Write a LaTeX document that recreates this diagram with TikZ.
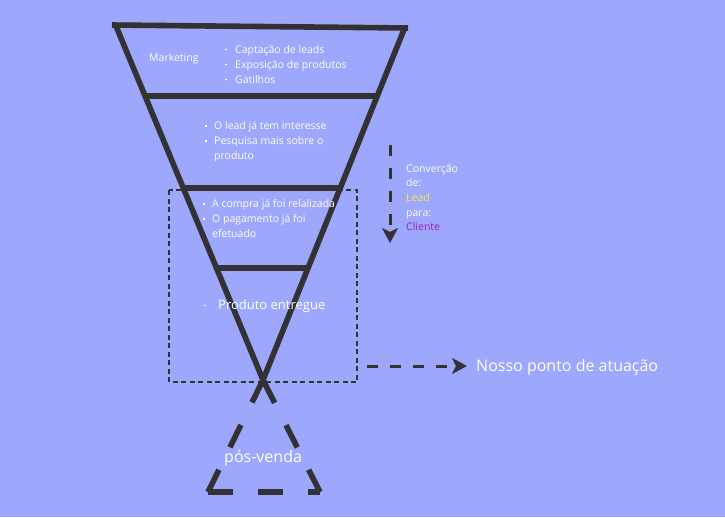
\documentclass[tikz,border=0pt]{standalone}
\usepackage{fontspec}
\setmainfont{Open Sans}
\usetikzlibrary{arrows.meta}
\definecolor{bg}{RGB}{157,167,251}
\definecolor{ink}{RGB}{50,50,52}
\definecolor{leadc}{RGB}{245,232,70}
\definecolor{clientc}{RGB}{160,30,190}
\newcommand\bul[1][9pt]{\makebox[#1][l]{\rule[2.6pt]{1.7pt}{1.7pt}}}
\newcommand\nob[1][9pt]{\hspace*{#1}}
\begin{document}
\begin{tikzpicture}[x=1pt,y=-1pt,
  funnel/.style={draw=ink,line width=5.6pt},
  tri/.style={draw=ink,line width=5.6pt,dash pattern=on 25pt off 25pt},
  frame/.style={draw=ink,line width=1.4pt,dash pattern=on 5pt off 3.5pt},
  darrow/.style={draw=ink,line width=3pt,dash pattern=on 11pt off 12pt,-{Stealth[length=15pt,width=16pt,inset=4pt]}},
  lbl/.style={anchor=base west,inner sep=0pt,text=white,align=left,font=\fontsize{10.5}{15}\selectfont},
  big/.style={anchor=base west,inner sep=0pt,text=white,font=\fontsize{16}{19}\selectfont}]
\fill[bg] (0,0) rectangle (725,517);
\useasboundingbox (0,0) rectangle (725,517);
% funnel
\coordinate (tl) at (116,26);
\coordinate (tr) at (405,27);
\coordinate (v) at (263,380);
\draw[funnel] (112,25) -- (408,28);
\draw[funnel,line join=miter] (tl) -- (v) -- (tr);
\draw[funnel] (145,96) -- (377,96);
\draw[funnel] (183,188) -- (341,188);
\draw[funnel] (216,268) -- (309,268);
% pos-venda triangle
\coordinate (bl) at (208,492);
\coordinate (br) at (320,492);
\draw[tri] (v) -- (bl);
\draw[tri] (bl) -- (br);
\draw[tri] (br) -- (v);
% frame
\draw[frame] (169,190) rectangle (357,382);
% arrows
\coordinate (a1) at (390,145);
\coordinate (a2) at (390,243);
\draw[darrow] (a1) -- (a2);
\coordinate (h1) at (367,366);
\coordinate (h2) at (467,366);
\draw[darrow] (h1) -- (h2);
% texts (base anchor = baseline of last line)
\node[lbl] (mk) at (149,61) {Marketing};
\node[lbl] (l1) at (225,83) {\bul[10pt]Captação de leads\\\bul[10pt]Exposição de produtos\\\bul[10pt]Gatilhos};
\node[lbl] (l2) at (205,159.5) {\bul O lead já tem interesse\\\bul Pesquisa mais sobre o\\\nob produto};
\node[lbl] (l3) at (203,237.5) {\bul A compra já foi relalizada\\\bul O pagamento já foi\\\nob efetuado};
\node[anchor=base west,inner sep=0pt,text=white,font=\fontsize{13}{15}\selectfont] (l4) at (204,309) {\bul[14pt]Produto entregue};
\node[lbl,font=\fontsize{10.5}{14.6}\selectfont] (conv) at (406,230.7) {Converção\\de:\\\textcolor{leadc}{Lead}\\para:\\\textcolor{clientc}{Cliente}};
\node[big] (np) at (476,371) {Nosso ponto de atuação};
\node[big] (pv) at (224,462) {pós-venda};
\end{tikzpicture}
\end{document}
